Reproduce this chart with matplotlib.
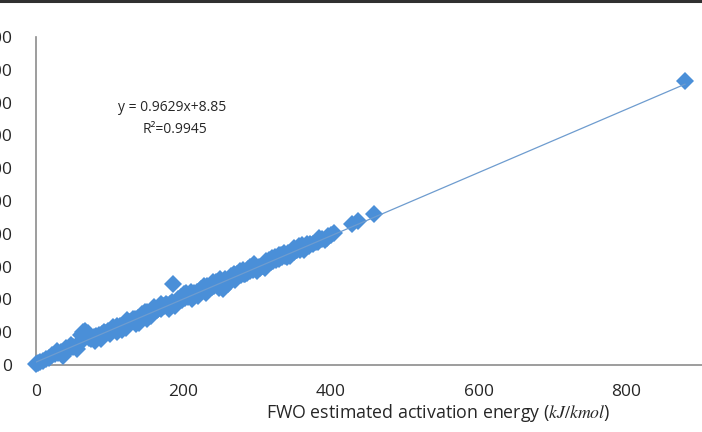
"""Scatter of KAS vs FWO activation energies with linear trend line."""

import matplotlib

matplotlib.use("Agg")
import matplotlib.pyplot as plt
from matplotlib.lines import Line2D

# FWO estimated activation energy (kJ/kmol)
fwo_energy = [
    0, 3, 6, 10, 14, 18, 22, 26, 30, 34, 38, 42, 46, 50, 54, 58, 61, 64, 67, 70,
    72, 75, 78, 82, 86, 90, 94, 98, 102, 106, 110, 114, 118, 122, 126, 130, 134,
    138, 142, 146, 150, 154, 158, 162, 166, 170, 174, 178, 182, 186, 190, 194,
    198, 202, 206, 210, 214, 218, 222, 226, 230, 234, 238, 242, 246, 250, 254,
    258, 262, 266, 270, 274, 278, 282, 286, 290, 294, 298, 302, 306, 310, 314,
    318, 322, 326, 330, 334, 338, 342, 346, 350, 354, 358, 362, 366, 370, 376,
    382, 388, 394, 400, 404, 428, 437, 458, 880,
    40, 80, 100, 120, 140, 160, 180, 200, 220, 240, 260, 280, 300, 320, 340,
    360, 150, 110, 170, 210, 230, 250, 270, 290, 310, 330, 350,
    28, 48, 88, 104, 132, 144, 156, 176, 192, 204, 216, 228, 244, 264, 276,
    288, 296, 316, 336, 356, 372, 384, 396,
    36, 56, 92, 116, 136, 152, 164, 188, 196, 212, 232, 248, 268, 284, 304,
    324, 344, 364, 380, 392,
    124, 148, 168, 184, 208, 224, 236, 256, 272, 292, 312, 332, 352, 368,
]
# second method estimate for the same points
kas_energy = [
    2, 5, 9, 12, 18, 22, 30, 33, 36, 40, 42, 46, 52, 55, 58, 64, 92, 100, 104, 98,
    82, 80, 86, 88, 92, 95, 99, 104, 106, 110, 118, 120, 122, 112, 130, 134, 140,
    142, 146, 150, 162, 158, 162, 168, 172, 172, 180, 182, 186, 248, 192, 196,
    198, 205, 208, 212, 218, 222, 224, 228, 232, 236, 238, 242, 246, 250, 232,
    256, 260, 262, 268, 272, 274, 278, 282, 286, 290, 296, 300, 302, 306, 308,
    314, 318, 320, 322, 328, 332, 340, 338, 344, 350, 352, 356, 362, 364, 370,
    376, 384, 388, 396, 402, 430, 438, 460, 866,
    52, 72, 96, 128, 128, 176, 170, 215, 210, 252, 246, 290, 288, 326, 328,
    366, 140, 100, 186, 222, 220, 262, 258, 298, 296, 336, 356,
    44, 62, 80, 116, 140, 154, 148, 186, 200, 218, 212, 240, 254, 270, 288,
    292, 308, 320, 340, 364, 368, 388, 392,
    28, 48, 100, 108, 124, 160, 168, 180, 206, 200, 240, 236, 276, 276, 296,
    330, 332, 352, 374, 380,
    138, 162, 176, 192, 212, 232, 238, 262, 278, 296, 318, 334, 352, 370,
]

slope = 0.9629
intercept = 8.85
r_squared = 0.9945
fit_range = [0, 880]

x_ticks = [0, 200, 400, 600, 800]
y_ticks = [0, 100, 200, 300, 400, 500, 600, 700, 800, 900, 1000]

BLUE = "#4a8fd8"
AXIS_GREY = "#8c8c8c"
TEXT = "#262626"

plt.rcParams["font.family"] = ["Open Sans", "DejaVu Sans"]
plt.rcParams["mathtext.fontset"] = "stix"

fig = plt.figure(figsize=(7.02, 4.32), dpi=100)
ax = fig.add_axes([36 / 702, 67 / 432, 1 - 36 / 702, 328 / 432])

ax.plot(fwo_energy, kas_energy, linestyle="none", marker="D", markersize=9,
        color=BLUE, markeredgewidth=0, clip_on=False, zorder=3)

fit_y = [slope * x + intercept for x in fit_range]
ax.plot(fit_range, fit_y, color="#6e9ccf", linewidth=0.9, zorder=4)

ax.set_xlim(0, 903)
ax.set_ylim(0, 1000)
ax.set_xticks(x_ticks)
ax.set_yticks(y_ticks)
ax.tick_params(axis="both", length=0, labelsize=12.5, labelcolor=TEXT)
ax.tick_params(axis="x", pad=14)
ax.tick_params(axis="y", pad=17)

for side in ("top", "right"):
    ax.spines[side].set_visible(False)
for side in ("left", "bottom"):
    ax.spines[side].set_color(AXIS_GREY)
    ax.spines[side].set_linewidth(1.2)

ax.text(185, 785, f"y = {slope}x+{intercept}",
        ha="center", va="center", fontsize=10, color=TEXT)
ax.text(188, 718, f"R²={r_squared}",
        ha="center", va="center", fontsize=10, color=TEXT)

fig.text(438 / 702, 1 - 413 / 432,
         r"FWO estimated activation energy ($kJ/kmol$)",
         ha="center", va="center", fontsize=12.8, color=TEXT)

# dark frame line along the top edge of the crop
fig.add_artist(Line2D([0, 1], [1 - 1.3 / 432, 1 - 1.3 / 432],
                      transform=fig.transFigure, color="#303030", linewidth=2.2))

fig.savefig("out.png", dpi=100)
plt.close(fig)
